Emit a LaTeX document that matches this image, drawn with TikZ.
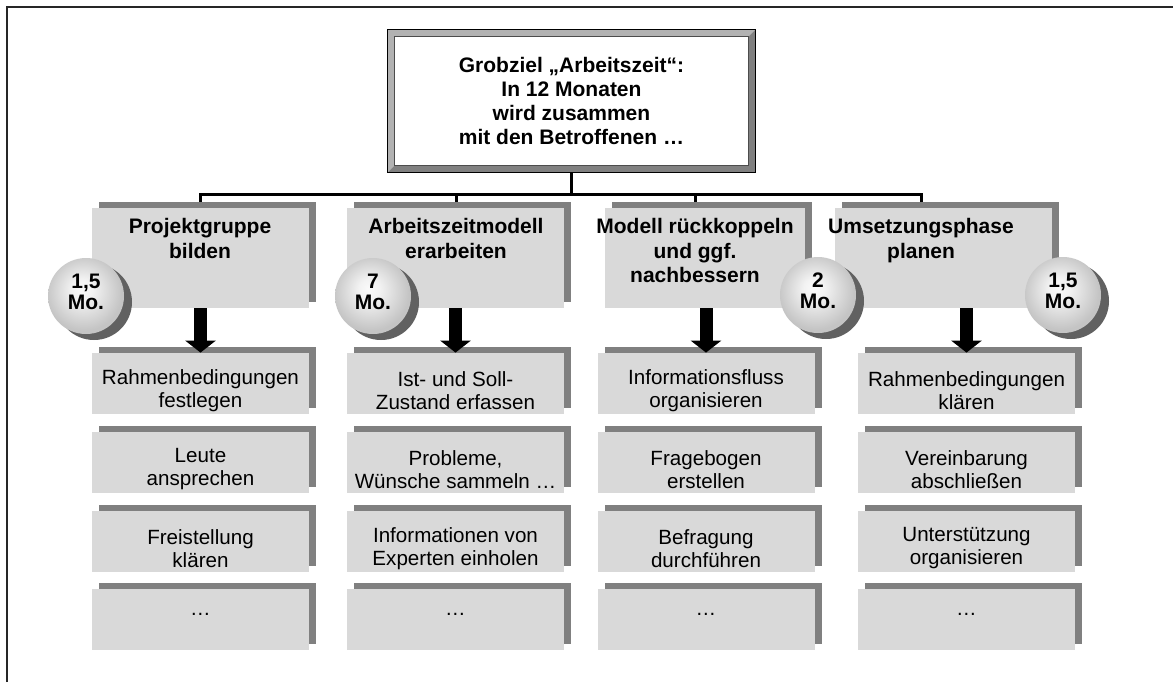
\documentclass[tikz,border=0pt]{standalone}
\usepackage{fontspec}
\setmainfont{Liberation Sans}
\usetikzlibrary{arrows.meta,shadows,backgrounds}
\definecolor{boxgray}{gray}{0.85}
\definecolor{shadegray}{gray}{0.5}
\definecolor{ballshade}{gray}{0.38}
\definecolor{bevlight}{gray}{0.7}
\definecolor{bevdark}{gray}{0.5}
\pgfdeclareradialshading{sphere}{\pgfpoint{-3bp}{5bp}}{color(0bp)=(gray!4); color(7bp)=(gray!10); color(16bp)=(gray!28); color(25bp)=(gray!46); color(50bp)=(gray!46)}
\tikzset{
  goal/.style    = {fill=white, inner sep=0pt, minimum width=183.5pt, minimum height=71pt,
                    align=center, font=\bfseries\fontsize{10.5}{11.9}\selectfont},
  phase/.style   = {fill=boxgray, inner sep=0pt, minimum width=108.5pt, minimum height=50pt,
                    drop shadow={shadow xshift=3.5pt, shadow yshift=3pt, fill=shadegray, opacity=1}},
  title/.style   = {inner sep=0pt, anchor=north, align=center,
                    font=\bfseries\fontsize{10.5}{12.3}\selectfont},
  taskbox/.style = {phase, minimum height=30.5pt, font=\fontsize{10.3}{11.5}\selectfont},
  tasktext/.style = {inner sep=0pt, align=center, yshift=-3.5pt,
                    font=\fontsize{10.3}{11.5}\selectfont},
  task/.style    = {taskbox, label={[tasktext]center:{#1}}},
  month/.style   = {circle, minimum size=38pt, inner sep=0pt, shading=sphere, align=center,
                    font=\bfseries\fontsize{10.5}{10.5}\selectfont,
                    execute at end node={\rule[-4pt]{0pt}{0pt}},
                    drop shadow={shadow xshift=4pt, shadow yshift=-3pt, fill=ballshade, opacity=1}},
  link/.style    = {line width=1.5pt},
  flow/.style    = {line width=6.5pt, -{Triangle[width=15pt,length=6pt]}}
}
\begin{document}
\begin{tikzpicture}[x=0.5pt,y=-0.5pt]
  \useasboundingbox (0,0) rectangle (1173,682);
  \draw[line width=1pt, black!85] (7,682) -- (7,7) -- (1173,7);

  % Grobziel
  \node[goal] (goal) at (571.5,101)
    {Grobziel „Arbeitszeit“:\\In 12 Monaten\\wird zusammen\\mit den Betroffenen …};
  \fill[bevlight] (goal.south west) -- (goal.north west) -- (goal.north east)
    -- ++(-3.5pt,-3.5pt) -| ([shift={(3.5pt,3.5pt)}]goal.south west) -- cycle;
  \fill[bevdark] (goal.south west) -- (goal.south east) -- (goal.north east)
    -- ++(-3.5pt,-3.5pt) |- ([shift={(3.5pt,3.5pt)}]goal.south west) -- cycle;
  \draw[line width=0.6pt] (goal.south west) rectangle (goal.north east);
  \draw[line width=0.4pt, black!70] ([shift={(3.5pt,3.5pt)}]goal.south west)
    rectangle ([shift={(-3.5pt,-3.5pt)}]goal.north east);

  % Phasen
  \node[phase] (p1) at (200.5,258) {};
  \node[phase] (p2) at (455,258) {};
  \node[phase, minimum width=100pt] (p3) at (705,258) {};
  \node[phase] (p4) at (943,258) {};
  \node[title] (t1) at (200,218) {Projektgruppe\\bilden};
  \node[title] (t2) at (456,218) {Arbeitszeitmodell\\erarbeiten};
  \node[title] (t3) at (695,218) {Modell rückkoppeln\\und ggf.\\nachbessern};
  \node[title] (t4) at (921,218) {Umsetzungsphase\\planen};

  \coordinate (bus) at (571.5,194);
  \begin{scope}[on background layer]
    \draw[link] (goal.south) -- (bus);
    \draw[link] (t1 |- p1.north) |- (bus) -| (t4 |- p4.north);
    \draw[link] (bus -| t2) -- (t2 |- p2.north);
    \draw[link] (bus -| t3) -- (t3 |- p3.north);
  \end{scope}

  % Aufgaben
  \node[task={Rahmenbedingungen\\festlegen}] (r11) at (200.5,383.5) {};
  \node[task={Leute\\ansprechen}] (r12) at (200.5,462.5) {};
  \node[task={Freistellung\\klären}] (r13) at (200.5,541.5) {};
  \node[taskbox] (r14) at (200.5,619.5) {\raisebox{2pt}[0pt][0pt]{…}};
  \node[task={Ist- und Soll-\\Zustand erfassen}] (r21) at (455.5,383.5) {};
  \node[task={Probleme,\\Wünsche sammeln …}] (r22) at (455.5,462.5) {};
  \node[task={Informationen von\\Experten einholen}] (r23) at (455.5,541.5) {};
  \node[taskbox] (r24) at (455.5,619.5) {\raisebox{2pt}[0pt][0pt]{…}};
  \node[task={Informationsfluss\\organisieren}] (r31) at (706,383.5) {};
  \node[task={Fragebogen\\erstellen}] (r32) at (706,462.5) {};
  \node[task={Befragung\\durchführen}] (r33) at (706,541.5) {};
  \node[taskbox] (r34) at (706,619.5) {\raisebox{2pt}[0pt][0pt]{…}};
  \node[task={Rahmenbedingungen\\klären}] (r41) at (966.5,383.5) {};
  \node[task={Vereinbarung\\abschließen}] (r42) at (966.5,462.5) {};
  \node[task={Unterstützung\\organisieren}] (r43) at (966.5,541.5) {};
  \node[taskbox] (r44) at (966.5,619.5) {\raisebox{2pt}[0pt][0pt]{…}};

  \foreach \i in {1,...,4}
    \draw[flow] (p\i.south -| r\i1) -- (r\i1.north);

  % Dauer
  \node[month] (m1) at (86,296) {1,5\\Mo.};
  \node[month] (m2) at (373,296) {7\\Mo.};
  \node[month] (m3) at (818,295) {2\\Mo.};
  \node[month] (m4) at (1063,295) {1,5\\Mo.};
\end{tikzpicture}
\end{document}
